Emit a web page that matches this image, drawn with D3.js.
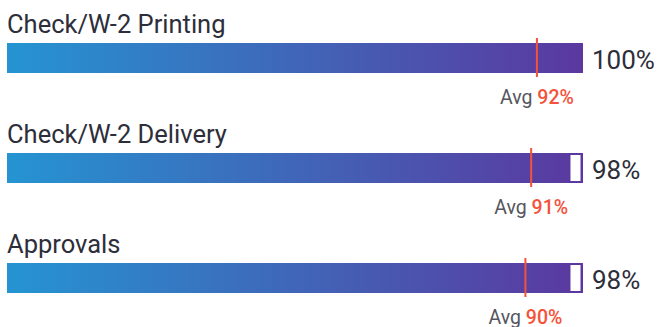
<!DOCTYPE html>
<html><head><meta charset="utf-8">
<script src="https://cdn.jsdelivr.net/npm/d3@7"></script>
<style>html,body{margin:0;padding:0;background:#fff;}svg{display:block;}</style>
</head><body>
<svg id="chart" width="657" height="327"></svg>
<script>
const categories = ["Check/W-2 Printing", "Check/W-2 Delivery", "Approvals"];
const values = [100, 98, 98];
const averages = [92, 91, 90];

const rows = categories.map((c, i) => ({ name: c, value: values[i], avg: averages[i] }));

const svg = d3.select("#chart");
const font = "Roboto, 'Noto Sans', sans-serif";
const x = d3.scaleLinear().domain([0, 100]).range([7, 583]);
const y = d3.scaleBand().domain(categories).range([43, 373]).paddingInner(0).paddingOuter(0);
const barH = 30;

const defs = svg.append("defs");
const grad = defs.append("linearGradient").attr("id", "g").attr("gradientUnits", "userSpaceOnUse")
  .attr("x1", x(0)).attr("x2", x(100)).attr("y1", 0).attr("y2", 0);
grad.append("stop").attr("offset", "0%").attr("stop-color", "#2594d2");
grad.append("stop").attr("offset", "100%").attr("stop-color", "#5b389f");

const g = svg.selectAll("g.row").data(rows).enter().append("g").attr("class", "row");

g.append("text").attr("x", 7).attr("y", d => y(d.name) - 10.5)
  .attr("font-family", font).attr("font-size", 25.5).attr("fill", "#2d2e3a")
  .text(d => d.name);

g.append("rect").attr("x", x(0)).attr("y", d => y(d.name)).attr("width", x(100) - x(0)).attr("height", barH)
  .attr("fill", "url(#g)");

g.filter(d => d.value < 100).append("rect")
  .attr("x", d => x(d.value) - 1).attr("y", d => y(d.name) + 2)
  .attr("width", d => x(100) - 2.5 - (x(d.value) - 1)).attr("height", barH - 4)
  .attr("fill", "#fff");

g.append("line").attr("x1", d => x(d.avg)).attr("x2", d => x(d.avg))
  .attr("y1", d => y(d.name) - 5).attr("y2", d => y(d.name) + barH + 4)
  .attr("stroke", "#f4523a").attr("stroke-width", 2);

g.append("text").attr("x", 592).attr("y", d => y(d.name) + 25.5)
  .attr("font-family", font).attr("font-size", 26).attr("fill", "#2d2e3a")
  .text(d => d.value + "%");

const avg = g.append("text").attr("x", d => x(d.avg)).attr("y", d => y(d.name) + barH + 30.5)
  .attr("text-anchor", "middle").attr("font-family", font).attr("font-size", 19.5);
avg.append("tspan").attr("fill", "#555560").text("Avg ");
avg.append("tspan").attr("fill", "#f4523a").attr("font-weight", 500).text(d => d.avg + "%");
</script>
</body></html>
